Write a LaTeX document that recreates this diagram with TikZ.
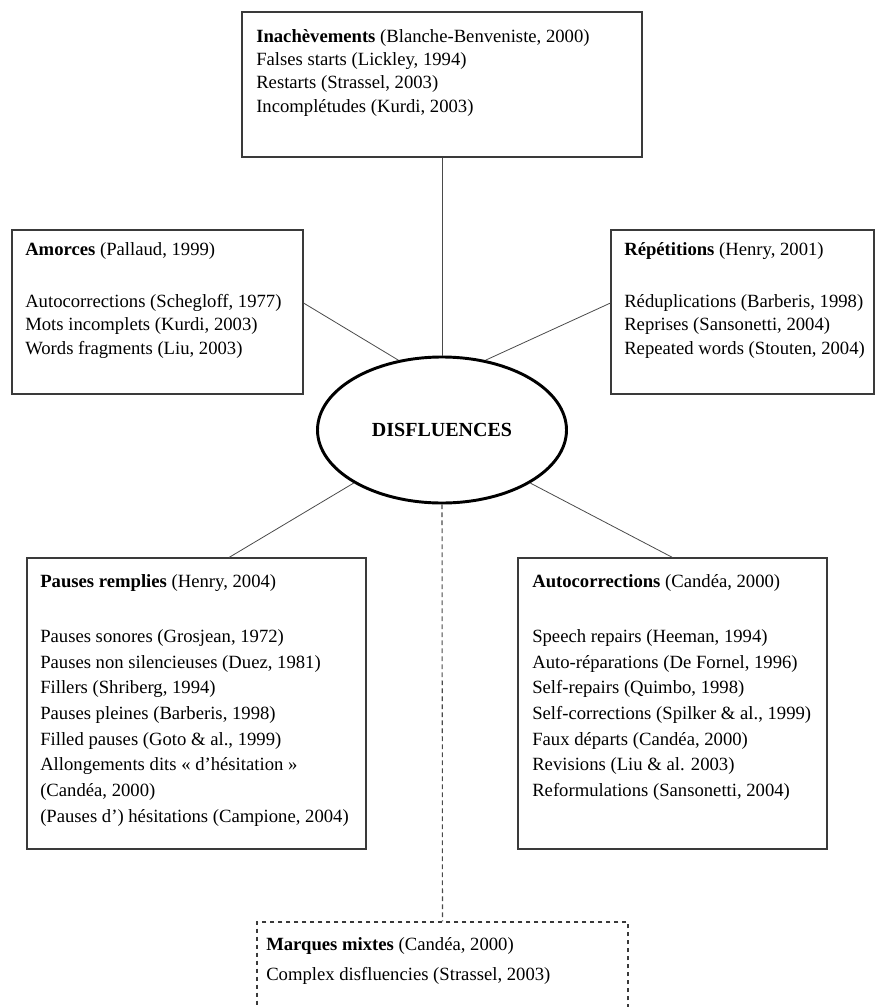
\documentclass[tikz,border=0pt]{standalone}
\usepackage{fontspec}
\setmainfont{Liberation Serif}
\usepackage{xcolor}
\usetikzlibrary{shapes.geometric}
\definecolor{framecolor}{HTML}{3a3a3a}
\definecolor{linkcolor}{HTML}{4a4a4a}

\begin{document}
\begin{tikzpicture}[
        frame/.style = {draw = framecolor, line width = 0.8pt, rectangle, inner sep = 0pt},
        dashframe/.style = {frame, dash pattern = on 3.5pt off 2.5pt},
        boxtext/.style = {anchor = north west, inner sep = 0pt, align = left, font = \fontsize{14pt}{17.5pt}\selectfont},
        widetext/.style = {boxtext, font = \fontsize{14pt}{19.3pt}\selectfont},
        link/.style = {draw = linkcolor, line width = 0.6pt}
    ]

        \clip (0pt, 0pt) rectangle (657pt, -755.25pt);

        % Frames
        \node [frame, minimum width = 300pt, minimum height = 108.75pt] (inach) at (331.5pt, -63.375pt) {};
        \node [frame, minimum width = 218.25pt, minimum height = 123pt] (amorces) at (118.125pt, -234pt) {};
        \node [frame, minimum width = 197.25pt, minimum height = 123pt] (repet) at (556.875pt, -234pt) {};
        \node [frame, minimum width = 254.25pt, minimum height = 218.25pt] (pauses) at (147.375pt, -527.625pt) {};
        \node [frame, minimum width = 231.75pt, minimum height = 218.25pt] (autocorr) at (504.375pt, -527.625pt) {};
        \node [dashframe, minimum width = 278.25pt, minimum height = 98.5pt] (marques) at (331.875pt, -740.75pt) {};

        \node [ellipse, draw = black, line width = 2.2pt, minimum width = 186.75pt, minimum height = 109.5pt, inner sep = 0pt, font = \bfseries\fontsize{15pt}{18pt}\selectfont] (disf) at (331.5pt, -322.5pt) {DISFLUENCES};

        % Texts
        \node [boxtext] (inachtxt) at (192pt, -21.8pt) {\textbf{Inachèvements} (Blanche-Benveniste, 2000)\\ Falses starts (Lickley, 1994)\\ Restarts (Strassel, 2003)\\ Incomplétudes (Kurdi, 2003)};
        \node [boxtext] (amorcestxt) at (18.75pt, -181.5pt) {\textbf{Amorces} (Pallaud, 1999)\\[21.75pt] Autocorrections (Schegloff, 1977)\\ Mots incomplets (Kurdi, 2003)\\ Words fragments (Liu, 2003)};
        \node [boxtext] (repettxt) at (468pt, -181.5pt) {\textbf{Répétitions} (Henry, 2001)\\[21.75pt] Réduplications (Barberis, 1998)\\ Reprises (Sansonetti, 2004)\\ Repeated words (Stouten, 2004)};
        \node [widetext] (pausestxt) at (30pt, -430.5pt) {\textbf{Pauses remplies} (Henry, 2004)\\[22pt] Pauses sonores (Grosjean, 1972)\\ Pauses non silencieuses (Duez, 1981)\\ Fillers (Shriberg, 1994)\\ Pauses pleines (Barberis, 1998)\\ Filled pauses (Goto \& al., 1999)\\ Allongements dits « d’hésitation »\\ (Candéa, 2000)\\ (Pauses d’) hésitations (Campione, 2004)};
        \node [widetext] (autocorrtxt) at (399pt, -430.5pt) {\textbf{Autocorrections} (Candéa, 2000)\\[22pt] Speech repairs (Heeman, 1994)\\ Auto-réparations (De Fornel, 1996)\\ Self-repairs (Quimbo, 1998)\\ Self-corrections (Spilker \& al., 1999)\\ Faux départs (Candéa, 2000)\\ Revisions (Liu \& al. 2003)\\ Reformulations (Sansonetti, 2004)};
        \node [boxtext] (marquestxt) at (199.5pt, -702.8pt) {\textbf{Marques mixtes} (Candéa, 2000)\\[5pt] Complex disfluencies (Strassel, 2003)};

        % Links
        \draw [link] (inach.south) -- (disf.north);
        \draw [link] ([yshift = 6.75pt]amorces.east) -- (disf.122);
        \draw [link] ([yshift = 6.75pt]repet.west) -- (disf.58);
        \draw [link] (disf.211) -- ([xshift = 24.4pt]pauses.north);
        \draw [link] (disf.329) -- (autocorr.north);
        \draw [link, line width = 0.8pt, dash pattern = on 3.5pt off 2.5pt] (disf.south) -- (marques.north);

    \end{tikzpicture}
\end{document}
